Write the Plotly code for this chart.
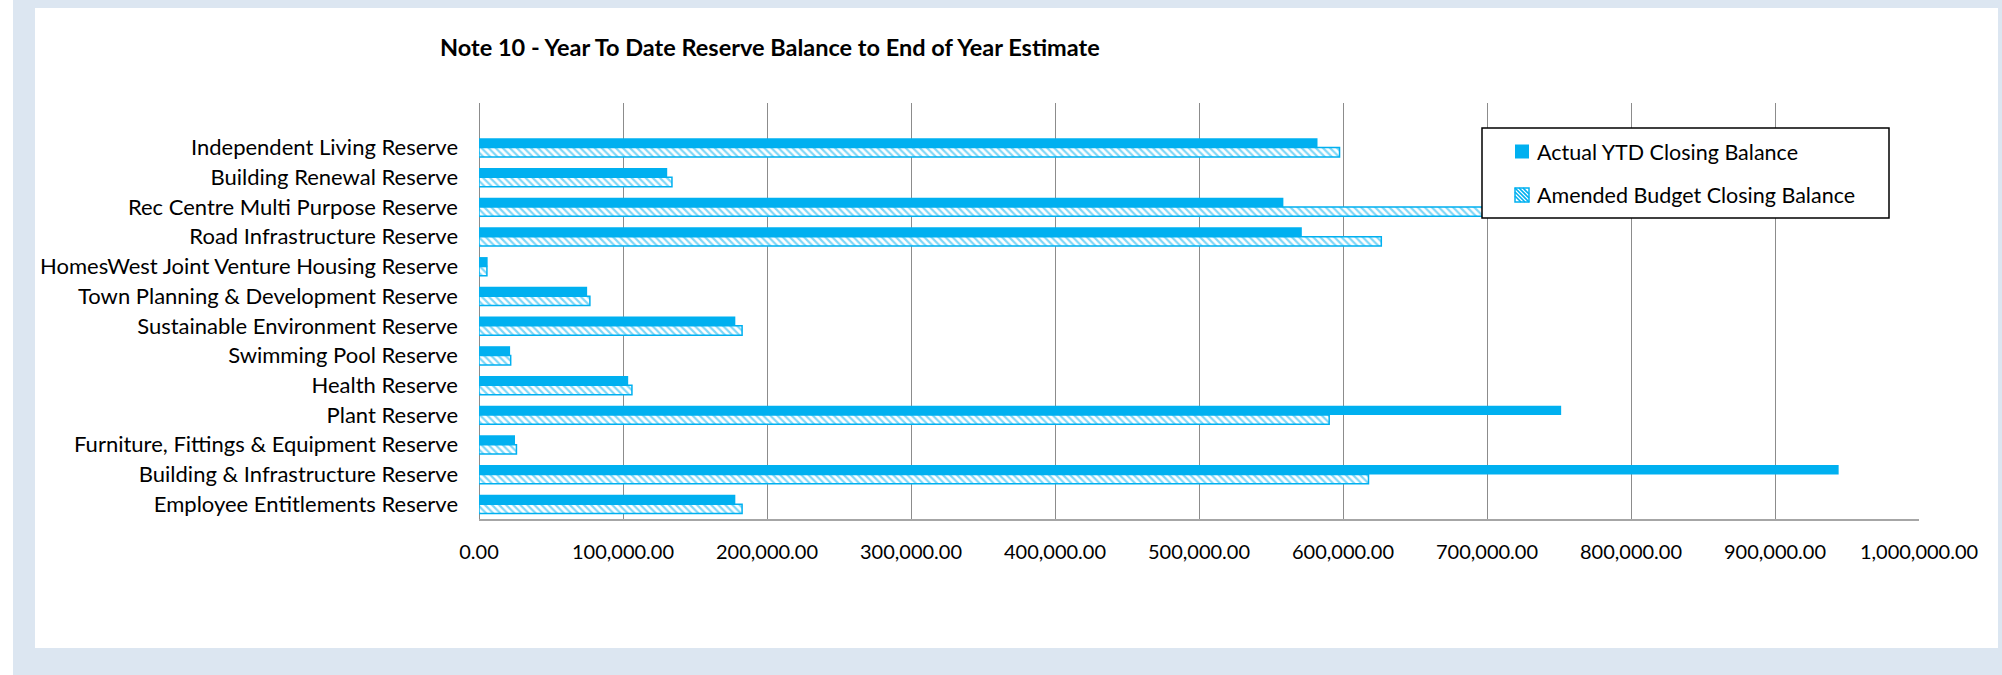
import plotly.graph_objects as go

categories = [
    "Independent Living Reserve",
    "Building Renewal Reserve",
    "Rec Centre Multi Purpose Reserve",
    "Road Infrastructure Reserve",
    "HomesWest Joint Venture Housing Reserve",
    "Town Planning & Development Reserve",
    "Sustainable Environment Reserve",
    "Swimming Pool Reserve",
    "Health Reserve",
    "Plant Reserve",
    "Furniture, Fittings & Equipment Reserve",
    "Building & Infrastructure Reserve",
    "Employee Entitlements Reserve",
]
actual_ytd = [582300, 130700, 558600, 571400, 6000, 75100, 178000, 21600,
              103600, 751500, 25000, 944200, 178000]
amended_budget = [597600, 134000, 720000, 626600, 5500, 77000, 182700, 22000,
                  106200, 590400, 26000, 617700, 182700]
x_ticks = [0, 100000, 200000, 300000, 400000, 500000, 600000, 700000, 800000,
           900000, 1000000]
series_names = ["Actual YTD Closing Balance", "Amended Budget Closing Balance"]

W, H = 2002, 675
L, R, T, B = 479, 83, 103, 156
PW, PH = W - L - R, H - T - B

def px(xp):
    return (xp - L) / PW

def py(yp):
    return (H - B - yp) / PH

BLUE = "#00B0F0"
FONT = "Lato"

fig = go.Figure()
fig.add_trace(go.Bar(
    y=categories, x=actual_ytd, orientation="h",
    name=series_names[0], showlegend=False,
    marker=dict(color=BLUE, line=dict(width=0)),
))
fig.add_trace(go.Bar(
    y=categories, x=amended_budget, orientation="h",
    name=series_names[1], showlegend=False,
    marker=dict(color="white", line=dict(color=BLUE, width=1.5),
                pattern=dict(shape="\\", fgcolor=BLUE, bgcolor="white",
                             size=5, solidity=0.45)),
))

shapes = [
    dict(type="rect", xref="paper", yref="paper", x0=px(0), x1=px(13),
         y0=py(H), y1=py(0), fillcolor="white", line=dict(width=0), layer="below"),
    dict(type="rect", xref="paper", yref="paper", x0=px(35), x1=px(1998),
         y0=py(648), y1=py(8), fillcolor="white", line=dict(width=0), layer="below"),
]

# legend box (drawn above the bars, as in the original)
LX0, LX1, LY0, LY1 = 1482, 1889, 128, 218
shapes.append(dict(type="rect", xref="paper", yref="paper",
                   x0=px(LX0), x1=px(LX1), y0=py(LY1), y1=py(LY0),
                   fillcolor="white", line=dict(color="black", width=1.5),
                   layer="above"))
rows_y = [151.5, 195]
SX0, SX1 = 1515, 1529
half = 7
# solid swatch
shapes.append(dict(type="rect", xref="paper", yref="paper",
                   x0=px(SX0), x1=px(SX1), y0=py(rows_y[0] + half), y1=py(rows_y[0] - half),
                   fillcolor=BLUE, line=dict(width=0), layer="above"))
# hatched swatch
y0s, y1s = rows_y[1] - half, rows_y[1] + half
shapes.append(dict(type="rect", xref="paper", yref="paper",
                   x0=px(SX0), x1=px(SX1), y0=py(y1s), y1=py(y0s),
                   fillcolor="white", line=dict(color=BLUE, width=1.5),
                   layer="above"))
size = SX1 - SX0
hatch = []
for d in (-8, -4, 0, 4, 8):
    if d >= 0:
        a = (SX0 + d, y0s)
        b = (SX1, y1s - d)
    else:
        a = (SX0, y0s - d)
        b = (SX1 + d, y1s)
    hatch.append(f"M{px(a[0])},{py(a[1])} L{px(b[0])},{py(b[1])}")
shapes.append(dict(type="path", xref="paper", yref="paper", path=" ".join(hatch),
                   line=dict(color=BLUE, width=1.6), layer="above"))

annotations = []
for name, yy in zip(series_names, rows_y):
    annotations.append(dict(text=name, xref="paper", yref="paper",
                            x=px(1535), y=py(yy), xanchor="left", yanchor="middle",
                            showarrow=False,
                            font=dict(family=FONT, size=21.5, color="black")))

fig.update_layout(
    width=W, height=H,
    margin=dict(l=L, r=R, t=T, b=B, pad=0),
    paper_bgcolor="#DCE6F1",
    plot_bgcolor="white",
    barmode="group",
    bargap=0.37,
    bargroupgap=0,
    showlegend=False,
    font=dict(family=FONT, size=20, color="black"),
    title=dict(text="<b>Note 10 - Year To Date Reserve Balance to End of Year Estimate</b>",
               font=dict(family=FONT, size=23.5, color="black"),
               x=440 / W, xanchor="left", xref="container",
               y=1 - 48 / H, yanchor="middle", yref="container"),
    shapes=shapes,
    annotations=annotations,
    xaxis=dict(range=[0, 1000000], tickvals=x_ticks, tickformat=",.2f",
               showgrid=True, gridcolor="#8C8C8C", gridwidth=1,
               zeroline=True, zerolinecolor="#8C8C8C", zerolinewidth=1,
               showline=True, linecolor="#A6A6A6", linewidth=2,
               ticks="", ticklabelstandoff=14,
               tickfont=dict(family=FONT, size=20, color="black"),
               fixedrange=True),
    yaxis=dict(type="category", categoryorder="array", categoryarray=categories,
               range=[12.5, -1.5], showgrid=False, zeroline=False, showline=False,
               ticks="", ticklabelstandoff=20,
               tickfont=dict(family=FONT, size=22, color="black"),
               fixedrange=True),
)

fig.write_html("out.html")
